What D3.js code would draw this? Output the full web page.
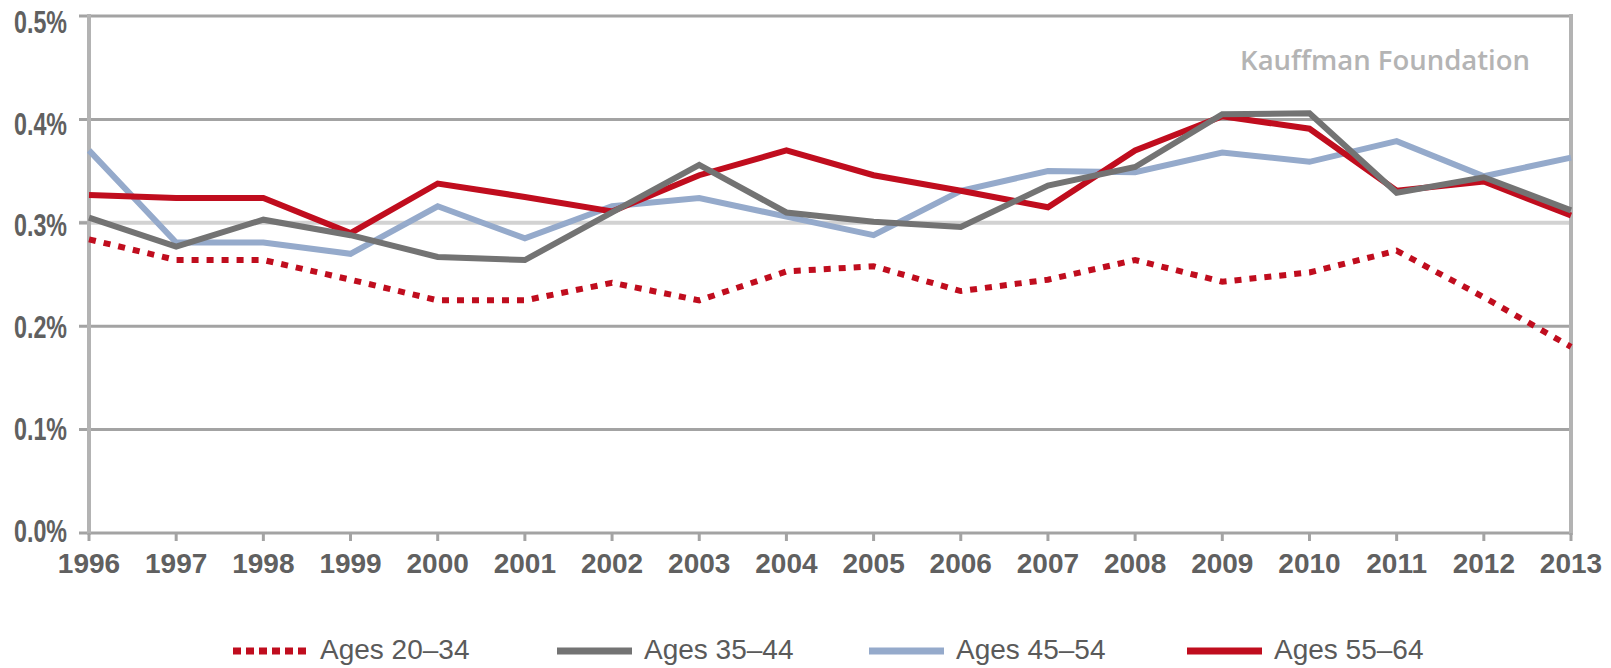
<!DOCTYPE html>
<html>
<head>
<meta charset="utf-8">
<script src="https://cdn.jsdelivr.net/npm/d3@7"></script>
<style>
  html, body { margin: 0; padding: 0; background: #fff; }
  svg { display: block; }
</style>
</head>
<body>
<svg id="chart" width="1611" height="668"></svg>
<script>
// data, in percent
const years = [1996, 1997, 1998, 1999, 2000, 2001, 2002, 2003, 2004, 2005, 2006, 2007, 2008, 2009, 2010, 2011, 2012, 2013]
const ages2034 = [0.284, 0.264, 0.264, 0.245, 0.225, 0.225, 0.242, 0.225, 0.253, 0.258, 0.234, 0.245, 0.264, 0.243, 0.252, 0.273, 0.228, 0.180]
const ages3544 = [0.305, 0.277, 0.303, 0.288, 0.267, 0.264, 0.310, 0.356, 0.310, 0.301, 0.296, 0.336, 0.354, 0.405, 0.406, 0.329, 0.344, 0.312]
const ages4554 = [0.370, 0.281, 0.281, 0.270, 0.316, 0.285, 0.316, 0.324, 0.306, 0.288, 0.331, 0.350, 0.349, 0.368, 0.359, 0.379, 0.345, 0.363]
const ages5564 = [0.327, 0.324, 0.324, 0.290, 0.338, 0.325, 0.311, 0.346, 0.370, 0.346, 0.331, 0.315, 0.370, 0.403, 0.391, 0.331, 0.340, 0.307]
const yTicks = [0, 0.1, 0.2, 0.3, 0.4, 0.5]

const series = [
  { name: 'Ages 20–34', values: ages2034, color: '#c00d1e', dash: '7,8', order: 0 },
  { name: 'Ages 35–44', values: ages3544, color: '#737373', dash: null, order: 3 },
  { name: 'Ages 45–54', values: ages4554, color: '#95aacb', dash: null, order: 1 },
  { name: 'Ages 55–64', values: ages5564, color: '#c00d1e', dash: null, order: 2 }
]

const labelFont = '"Liberation Sans", Arial, sans-serif'

const svg = d3.select('#chart')
const plotLeft = 89, plotRight = 1571, plotTop = 16, plotBottom = 533

const x = d3.scalePoint().domain(years).range([plotLeft, plotRight])
const y = d3.scaleLinear().domain([0, 0.5]).range([plotBottom, plotTop])
// the tick labels sit a little off their gridlines in the original
const yLabel = d3.scaleLinear().domain([0, 0.5]).range([530, 21.5])

// gridlines
svg.append('g')
  .selectAll('line')
  .data(yTicks)
  .enter().append('line')
  .attr('x1', plotLeft - 10)
  .attr('x2', plotRight)
  .attr('y1', d => y(d))
  .attr('y2', d => y(d))
  .attr('stroke', d => d === 0.3 ? '#d2d2d2' : '#a3a3a3')
  .attr('stroke-width', d => d === 0.3 ? 4 : 3)

// little dark tick for the light gridline
svg.append('line')
  .attr('x1', plotLeft - 10).attr('x2', plotLeft)
  .attr('y1', y(0.3)).attr('y2', y(0.3))
  .attr('stroke', '#a3a3a3').attr('stroke-width', 3)

// vertical frame lines
svg.append('line')
  .attr('x1', plotLeft).attr('x2', plotLeft)
  .attr('y1', plotTop - 2).attr('y2', plotBottom + 2)
  .attr('stroke', '#b3b3b3').attr('stroke-width', 4)
svg.append('line')
  .attr('x1', plotRight).attr('x2', plotRight)
  .attr('y1', plotTop - 2).attr('y2', plotBottom + 2)
  .attr('stroke', '#b3b3b3').attr('stroke-width', 4)

// x ticks
svg.append('g')
  .selectAll('line')
  .data(years)
  .enter().append('line')
  .attr('x1', d => x(d))
  .attr('x2', d => x(d))
  .attr('y1', plotBottom)
  .attr('y2', plotBottom + 8)
  .attr('stroke', '#a3a3a3')
  .attr('stroke-width', 3)

// y labels (condensed look via textLength)
svg.append('g')
  .selectAll('text')
  .data(yTicks)
  .enter().append('text')
  .attr('x', 14)
  .attr('y', d => yLabel(d))
  .attr('dy', '0.36em')
  .attr('font-family', labelFont)
  .attr('font-size', 32)
  .attr('font-weight', 'bold')
  .attr('fill', '#606060')
  .attr('textLength', 53)
  .attr('lengthAdjust', 'spacingAndGlyphs')
  .text(d => d.toFixed(1) + '%')

// x labels
svg.append('g')
  .selectAll('text')
  .data(years)
  .enter().append('text')
  .attr('x', d => x(d))
  .attr('y', 573)
  .attr('text-anchor', 'middle')
  .attr('font-family', labelFont)
  .attr('font-size', 28)
  .attr('font-weight', 'bold')
  .attr('fill', '#606060')
  .text(d => d)

// watermark
svg.append('text')
  .attr('x', 1530)
  .attr('y', 70)
  .attr('text-anchor', 'end')
  .attr('font-family', '"Open Sans", sans-serif')
  .attr('font-size', 27.5)
  .attr('font-weight', 600)
  .attr('fill', '#b4b4b4')
  .text('Kauffman Foundation')

// lines
const line = d3.line()
  .x((d, i) => x(years[i]))
  .y(d => y(d))

svg.append('g')
  .selectAll('path')
  .data(series.slice().sort((a, b) => a.order - b.order))
  .enter().append('path')
  .attr('d', d => line(d.values))
  .attr('fill', 'none')
  .attr('stroke', d => d.color)
  .attr('stroke-width', 6)
  .attr('stroke-dasharray', d => d.dash)
  .attr('stroke-linejoin', 'miter')

// legend
const legendX = [233, 557, 869, 1187]
const legend = svg.append('g')
  .selectAll('g')
  .data(series)
  .enter().append('g')
  .attr('transform', (d, i) => `translate(${legendX[i]}, 651)`)

legend.append('line')
  .attr('x1', 0).attr('x2', 75)
  .attr('stroke', d => d.color)
  .attr('stroke-width', 7)
  .attr('stroke-dasharray', d => d.dash ? '8,5' : null)

legend.append('text')
  .attr('x', 87)
  .attr('y', 8)
  .attr('font-family', labelFont)
  .attr('font-size', 28)
  .attr('fill', '#5a5a5a')
  .text(d => d.name)
</script>
</body>
</html>
